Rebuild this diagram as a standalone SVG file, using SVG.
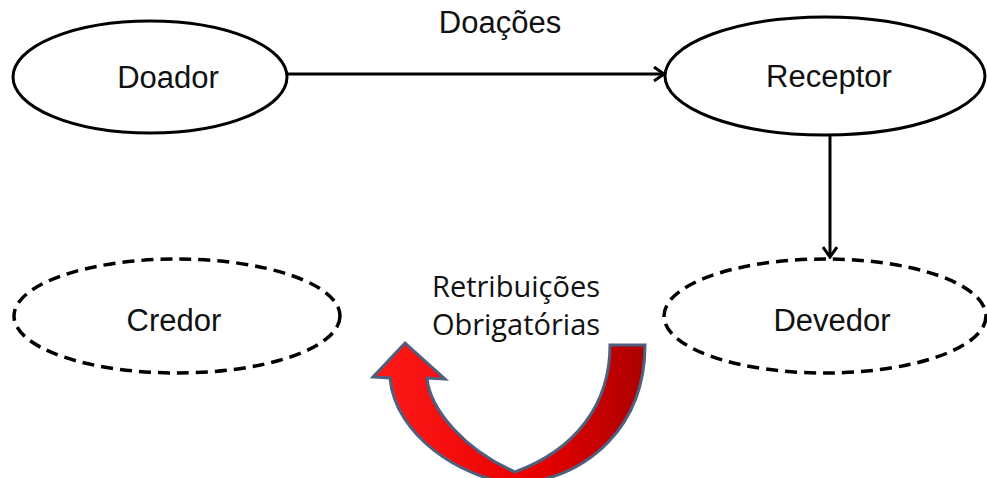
<svg xmlns="http://www.w3.org/2000/svg" width="987" height="478" viewBox="0 0 987 478">
<style>
.node{fill:#fff;stroke:#000;stroke-width:3}
.dash{fill:#fff;stroke:#000;stroke-width:3.5;stroke-dasharray:12 7}
.lbl{font-family:"Liberation Sans",Arial,sans-serif;font-size:31px;fill:#111;text-anchor:middle}
.lbl2{font-family:"Open Sans","Noto Sans",sans-serif;font-size:29px;fill:#111;text-anchor:middle}
.edge{stroke:#000;stroke-width:3;fill:none}
</style>
<defs>
<marker id="arr" markerWidth="16" markerHeight="16" refX="14" refY="8" orient="auto" markerUnits="userSpaceOnUse">
<path d="M4 1 L14 8 L4 15" fill="none" stroke="#000" stroke-width="3"/>
</marker>
<linearGradient id="red" gradientUnits="userSpaceOnUse" x1="370" y1="0" x2="650" y2="0">
<stop offset="0" stop-color="#ff1a1a"/>
<stop offset="0.6" stop-color="#e80000"/>
<stop offset="1" stop-color="#a80000"/>
</linearGradient>
</defs>
<g id="connectors">
<line class="edge" x1="287" y1="74" x2="664" y2="74" marker-end="url(#arr)"/>
<line class="edge" x1="830" y1="135" x2="830" y2="257" marker-end="url(#arr)"/>
<text class="lbl" x="500" y="33">Doações</text>
</g>
<g id="doador">
<ellipse class="node" cx="150" cy="77" rx="137" ry="56"/>
<text class="lbl" x="168" y="88">Doador</text>
</g>
<g id="receptor">
<ellipse class="node" cx="825" cy="76" rx="160" ry="59"/>
<text class="lbl" x="829" y="87">Receptor</text>
</g>
<g id="credor">
<ellipse class="dash" cx="177" cy="316" rx="163" ry="57"/>
<text class="lbl" x="174" y="331">Credor</text>
</g>
<g id="devedor">
<ellipse class="dash" cx="825" cy="316" rx="161" ry="57"/>
<text class="lbl" x="832" y="331">Devedor</text>
</g>
<g id="retribuicoes">
<text class="lbl2" x="516" y="297">Retribuições</text>
<text class="lbl2" x="516" y="335">Obrigatórias</text>
<path d="M645 345 L610 345 C610 405 575 450 515 472 C465 450 430 410 427 378 L445 379 L405 343 L373 377 L390 378 C395 435 460 478 515 484 C590 478 645 425 645 345 Z" fill="url(#red)" stroke="#4f5f7f" stroke-width="3" stroke-linejoin="miter"/>
</g>
</svg>
